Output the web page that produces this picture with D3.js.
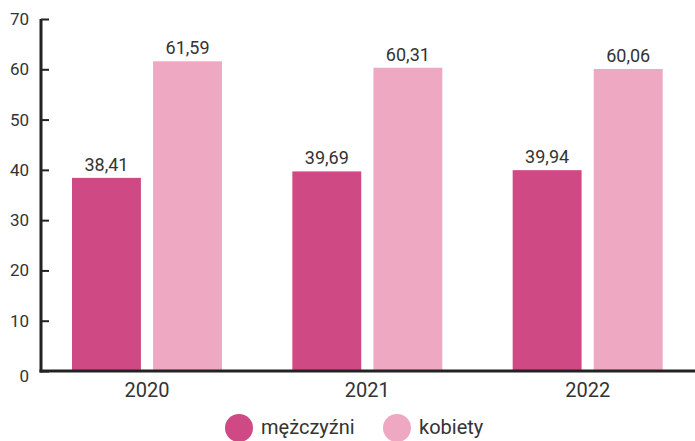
<!DOCTYPE html>
<html>
<head>
<meta charset="utf-8">
<script src="https://cdn.jsdelivr.net/npm/d3@7"></script>
<style>
  body { margin: 0; background: #fff; }
  svg text { font-family: Roboto, "Noto Sans", sans-serif; fill: #333; }
</style>
</head>
<body>
<svg id="chart" width="695" height="441"></svg>
<script>
// dane z wykresu
const years = ["2020", "2021", "2022"];
const series = ["mężczyźni", "kobiety"];
const menValues = [38.41, 39.69, 39.94];
const womenValues = [61.59, 60.31, 60.06];
const yTicks = [0, 10, 20, 30, 40, 50, 60, 70];

const colors = { "mężczyźni": "#cf4a84", "kobiety": "#eea8c2" };

const svg = d3.select("#chart");

const y = d3.scaleLinear().domain([0, 70]).range([371, 19]);

const x0 = d3.scaleBand().domain(years).range([37, 698]);
const x1 = d3.scaleBand().domain(series).range([35, 185]).paddingInner(0.15);

const rows = years.map(function (yr, i) {
  return { year: yr, values: [
    { key: "mężczyźni", value: menValues[i] },
    { key: "kobiety", value: womenValues[i] }
  ] };
});

const fmt = function (v) { return d3.format(".2f")(v).replace(".", ","); };

// słupki
const groups = svg.selectAll("g.group")
  .data(rows)
  .enter()
  .append("g")
  .attr("class", "group")
  .attr("transform", function (d) { return "translate(" + x0(d.year) + ",0)"; });

groups.selectAll("rect")
  .data(function (d) { return d.values; })
  .enter()
  .append("rect")
  .attr("x", function (d) { return x1(d.key); })
  .attr("y", function (d) { return y(d.value); })
  .attr("width", x1.bandwidth())
  .attr("height", function (d) { return y(0) - y(d.value); })
  .attr("fill", function (d) { return colors[d.key]; });

groups.selectAll("text.val")
  .data(function (d) { return d.values; })
  .enter()
  .append("text")
  .attr("class", "val")
  .attr("x", function (d) { return x1(d.key) + x1.bandwidth() / 2; })
  .attr("y", function (d) { return y(d.value) - 7; })
  .attr("text-anchor", "middle")
  .style("font-size", "18px")
  .text(function (d) { return fmt(d.value); });

// oś Y
const yAxis = svg.append("g")
  .attr("transform", "translate(41,0)")
  .call(d3.axisRight(y).tickValues(yTicks).tickSize(8).tickFormat(""));
yAxis.select(".domain").remove();
yAxis.selectAll(".tick line").attr("stroke", "#222").attr("stroke-width", 2);

svg.selectAll("text.ylab")
  .data(yTicks)
  .enter()
  .append("text")
  .attr("class", "ylab")
  .attr("x", 29)
  .attr("y", function (d) { return y(d) + (d === 0 ? 5 : 0); })
  .attr("dy", "0.35em")
  .attr("text-anchor", "end")
  .style("font-size", "17px")
  .text(function (d) { return d; });

svg.append("line")
  .attr("x1", 41).attr("x2", 41)
  .attr("y1", y(70)).attr("y2", y(0) + 1.5)
  .attr("stroke", "#222").attr("stroke-width", 3);

// oś X
svg.append("line")
  .attr("x1", 39.5).attr("x2", 695)
  .attr("y1", y(0)).attr("y2", y(0))
  .attr("stroke", "#222").attr("stroke-width", 3);

svg.selectAll("text.xlab")
  .data(years)
  .enter()
  .append("text")
  .attr("class", "xlab")
  .attr("x", function (d) { return x0(d) + 110; })
  .attr("y", 397)
  .attr("text-anchor", "middle")
  .style("font-size", "20px")
  .text(function (d) { return d; });

// legenda
const legendX = [239, 397];
const legend = svg.selectAll("g.legend")
  .data(series)
  .enter()
  .append("g")
  .attr("class", "legend")
  .attr("transform", function (d, i) { return "translate(" + legendX[i] + ",428)"; });

legend.append("circle")
  .attr("r", 14)
  .attr("fill", function (d) { return colors[d]; });

legend.append("text")
  .attr("x", 22)
  .attr("y", 6)
  .style("font-size", "20px")
  .text(function (d) { return d; });
</script>
</body>
</html>
